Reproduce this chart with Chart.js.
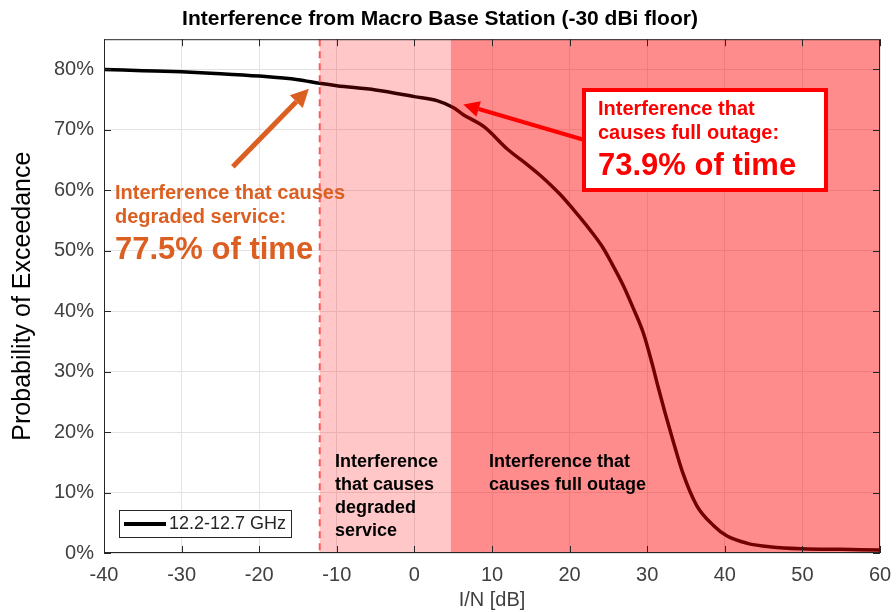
<!DOCTYPE html>
<html>
<head>
<meta charset="utf-8">
<script src="https://cdn.jsdelivr.net/npm/chart.js@4.4.0/dist/chart.umd.min.js"></script>
<style>
  html, body { margin: 0; padding: 0; background: #fff; }
</style>
</head>
<body>
<canvas id="grafica" width="896" height="612"></canvas>
<script>
// curva: I/N [dB] -> probabilidad de excedencia [%]
const inDb = [-40, -35, -30, -25, -20, -15, -12.2, -10, -5, 0, 3, 5, 6.3, 9, 12, 14.5, 16.2, 18.8, 20.5, 22.6, 24.2, 25.4, 26.9, 28.2, 29.5, 30.6, 31.4, 32.3, 33.3, 34.6, 36.4, 38.5, 40.3, 42.9, 46, 50, 55, 60];
const probExc = [80, 79.8, 79.6, 79.3, 78.9, 78.3, 77.7, 77.3, 76.6, 75.5, 74.8, 73.7, 72.5, 70.5, 66.8, 64.3, 62.5, 59.3, 56.8, 53.5, 50.7, 48, 44.3, 40.5, 36.4, 31.5, 27.5, 23.2, 18.7, 13.2, 7.8, 4.6, 2.8, 1.6, 1.0, 0.7, 0.6, 0.5];
const xTicks = [-40, -30, -20, -10, 0, 10, 20, 30, 40, 50, 60];
const yTicks = [0, 10, 20, 30, 40, 50, 60, 70, 80];
const serie = '12.2-12.7 GHz';
const limiteDegradado = -12.2; // inicio zona servicio degradado
const limiteCorte = 4.7;       // inicio zona corte total

const FONT = 'Arial, "Liberation Sans", Helvetica, sans-serif';

const flecha = (ctx, x1, y1, x2, y2, color, ancho, cabeza) => {
  const ang = Math.atan2(y2 - y1, x2 - x1);
  const bx = x2 - Math.cos(ang) * cabeza, by = y2 - Math.sin(ang) * cabeza;
  ctx.strokeStyle = color;
  ctx.fillStyle = color;
  ctx.lineWidth = ancho;
  ctx.beginPath();
  ctx.moveTo(x1, y1);
  ctx.lineTo(bx, by);
  ctx.stroke();
  ctx.beginPath();
  ctx.moveTo(x2, y2);
  ctx.lineTo(bx + Math.sin(ang) * cabeza * 0.5, by - Math.cos(ang) * cabeza * 0.5);
  ctx.lineTo(bx - Math.sin(ang) * cabeza * 0.5, by + Math.cos(ang) * cabeza * 0.5);
  ctx.closePath();
  ctx.fill();
};

const anotaciones = {
  id: 'anotaciones',
  afterDatasetsDraw(chart) {
    const ctx = chart.ctx;
    const area = chart.chartArea;
    const sx = chart.scales.x, sy = chart.scales.y;
    const px = v => sx.getPixelForValue(v);
    const py = v => sy.getPixelForValue(v);
    ctx.save();

    // zonas sombreadas (encima de la curva, la tiñen)
    ctx.fillStyle = 'rgba(255, 0, 0, 0.22)';
    ctx.fillRect(px(limiteDegradado), area.top, px(limiteCorte) - px(limiteDegradado), area.bottom - area.top);
    ctx.fillStyle = 'rgba(255, 0, 0, 0.45)';
    ctx.fillRect(px(limiteCorte), area.top, area.right - px(limiteCorte), area.bottom - area.top);

    // linea discontinua
    ctx.strokeStyle = '#FF5A5A';
    ctx.lineWidth = 2;
    ctx.setLineDash([7, 5]);
    ctx.beginPath();
    ctx.moveTo(px(limiteDegradado), area.top);
    ctx.lineTo(px(limiteDegradado), area.bottom);
    ctx.stroke();
    ctx.setLineDash([]);

    // marco y marcas hacia dentro
    ctx.strokeStyle = '#262626';
    ctx.lineWidth = 1;
    ctx.strokeRect(area.left + 0.5, area.top + 0.5, area.right - area.left - 1, area.bottom - area.top - 1);
    ctx.beginPath();
    xTicks.forEach(t => {
      const x = Math.round(px(t)) + 0.5;
      ctx.moveTo(x, area.bottom); ctx.lineTo(x, area.bottom - 7);
      ctx.moveTo(x, area.top); ctx.lineTo(x, area.top + 7);
    });
    yTicks.forEach(t => {
      const y = Math.round(py(t)) + 0.5;
      ctx.moveTo(area.left, y); ctx.lineTo(area.left + 7, y);
      ctx.moveTo(area.right, y); ctx.lineTo(area.right - 7, y);
    });
    ctx.stroke();

    // leyenda
    ctx.fillStyle = '#fff';
    ctx.fillRect(119, 510, 172, 27);
    ctx.strokeStyle = '#262626';
    ctx.strokeRect(119.5, 510.5, 172, 27);
    ctx.strokeStyle = '#000';
    ctx.lineWidth = 4;
    ctx.beginPath();
    ctx.moveTo(124, 524); ctx.lineTo(166, 524);
    ctx.stroke();
    ctx.fillStyle = '#262626';
    ctx.font = '18px ' + FONT;
    ctx.textBaseline = 'middle';
    ctx.fillText(serie, 169, 524);

    // etiquetas de zonas
    ctx.fillStyle = '#000';
    ctx.font = 'bold 18px ' + FONT;
    ['Interference', 'that causes', 'degraded', 'service'].forEach((t, i) => ctx.fillText(t, 335, 462 + i * 23));
    ['Interference that', 'causes full outage'].forEach((t, i) => ctx.fillText(t, 489, 462 + i * 23));

    // anotacion naranja
    const naranja = '#DC5F22';
    flecha(ctx, px(-23.4), py(63.9), px(-13.6), py(76.8), naranja, 5, 18);
    ctx.fillStyle = naranja;
    ctx.font = 'bold 20px ' + FONT;
    ctx.fillText('Interference that causes', 115, 193);
    ctx.fillText('degraded service:', 115, 217);
    ctx.font = 'bold 31px ' + FONT;
    ctx.fillText('77.5% of time', 115, 250);

    // anotacion roja con caja
    flecha(ctx, px(21.7), py(68.4), px(6.3), py(74.2), '#FF0000', 4, 16);
    ctx.fillStyle = '#fff';
    ctx.fillRect(584, 90, 242, 100);
    ctx.strokeStyle = '#FF0000';
    ctx.lineWidth = 4;
    ctx.strokeRect(584, 90, 242, 100);
    ctx.fillStyle = '#FF0000';
    ctx.font = 'bold 20px ' + FONT;
    ctx.fillText('Interference that', 598, 109);
    ctx.fillText('causes full outage:', 598, 133);
    ctx.font = 'bold 31px ' + FONT;
    ctx.fillText('73.9% of time', 598, 166);

    ctx.restore();
  }
};

const config = {
  type: 'line',
  data: {
    datasets: [{
      label: serie,
      data: inDb.map((x, i) => ({ x: x, y: probExc[i] })),
      borderColor: '#000',
      borderWidth: 3.5,
      pointRadius: 0,
      cubicInterpolationMode: 'monotone',
      fill: false
    }]
  },
  options: {
    responsive: false,
    animation: false,
    layout: { padding: { top: 0, right: 16, bottom: 0, left: 0 } },
    plugins: {
      legend: { display: false },
      tooltip: { enabled: false },
      title: {
        display: true,
        text: 'Interference from Macro Base Station (-30 dBi floor)',
        color: '#000',
        font: { family: FONT, size: 21, weight: 'bold' },
        padding: { top: 7, bottom: 7 }
      }
    },
    scales: {
      x: {
        type: 'linear',
        min: -40,
        max: 60,
        afterBuildTicks: s => { s.ticks = xTicks.map(v => ({ value: v })); },
        afterFit: s => { s.height = 59; s.paddingLeft = 0; s.paddingRight = 0; },
        ticks: { color: '#404040', font: { family: FONT, size: 20 }, padding: 10 },
        grid: { color: '#E3E3E3', drawTicks: false },
        border: { display: false },
        title: { display: true, text: 'I/N [dB]', color: '#404040', font: { family: FONT, size: 20 }, padding: { top: 0, bottom: 0 } }
      },
      y: {
        min: 0,
        max: 85,
        afterBuildTicks: s => { s.ticks = yTicks.map(v => ({ value: v })); },
        afterFit: s => { s.width = 104; },
        ticks: { color: '#404040', font: { family: FONT, size: 20 }, padding: 10, callback: v => v + '%' },
        grid: { color: '#E3E3E3', drawTicks: false },
        border: { display: false },
        title: { display: true, text: 'Probability of Exceedance', color: '#000', font: { family: FONT, size: 25 }, padding: { top: 8, bottom: 0 } }
      }
    }
  },
  plugins: [anotaciones]
};

const chart = new Chart(document.querySelector('#grafica'), config);
</script>
</body>
</html>
